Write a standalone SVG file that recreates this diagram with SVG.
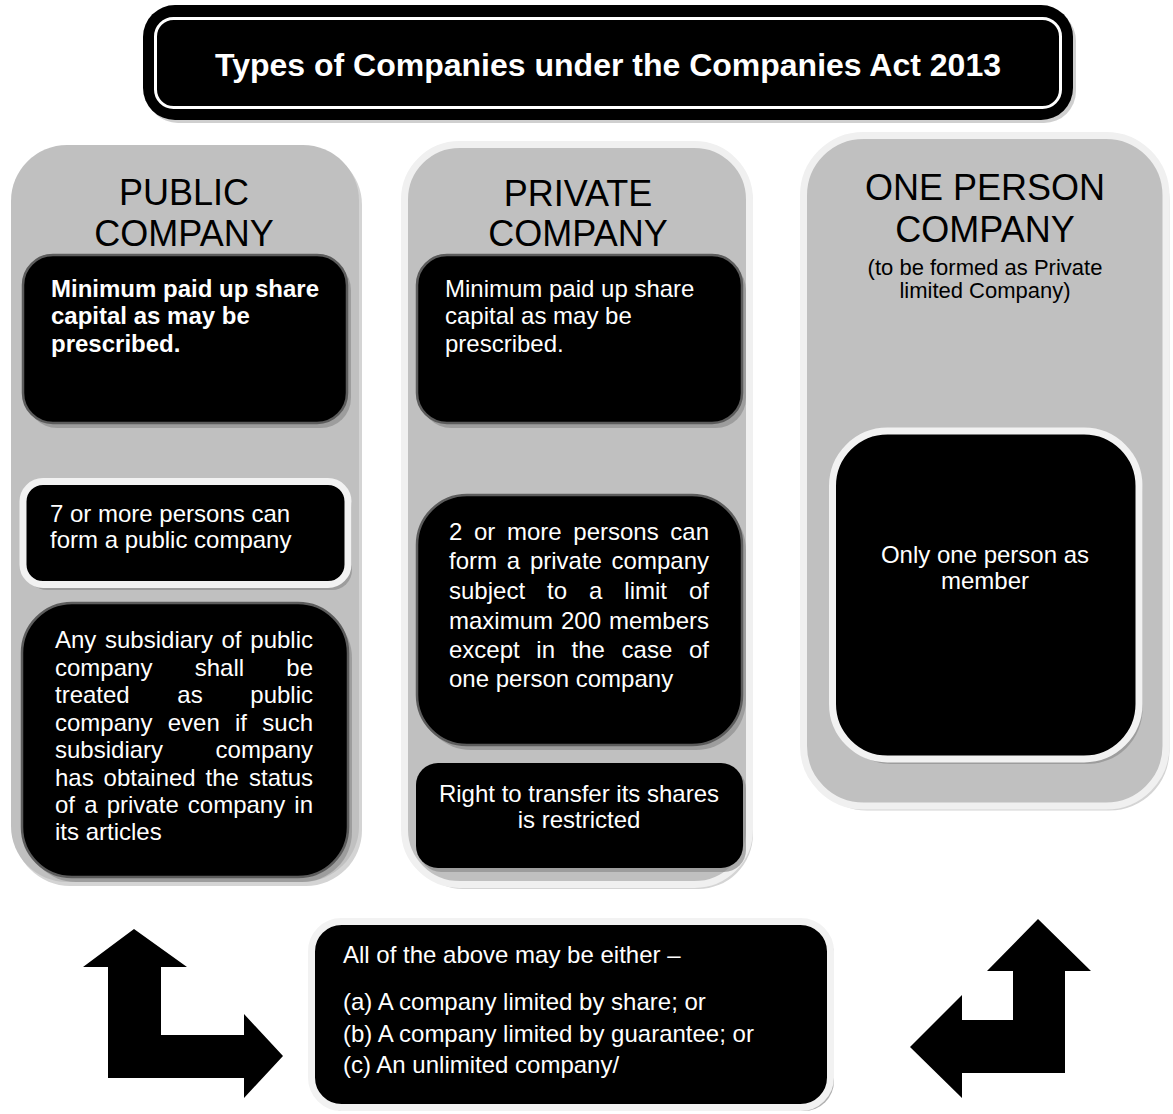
<svg xmlns="http://www.w3.org/2000/svg" width="1173" height="1114" viewBox="0 0 1173 1114">
<style>
text { font-family: "Liberation Sans", Arial, Helvetica, sans-serif; }
.col { fill: #c0c0c0; }
.ring { stroke: #f0f0f0; stroke-width: 7; }
.colsh { fill: #d4d4d4; }
.blk { fill: #000; stroke: #5c5c5c; stroke-width: 2.5; }
.blkw { fill: #000; stroke: #f2f2f2; stroke-width: 7; }
.sh { fill: #8e8e8e; opacity: 0.7; }
.hd { font-size: 36px; fill: #000; text-anchor: middle; }
.t { font-size: 24px; fill: #fff; }
.tb { font-size: 24px; fill: #fff; font-weight: bold; }
.c { text-anchor: middle; }
.e { text-anchor: end; }
.arrow { fill: #000; }
</style>
<rect width="1173" height="1114" fill="#fff"/>

<g id="title">
  <rect x="146" y="9" width="930" height="114" rx="32" fill="#a0a0a0" opacity="0.5"/>
  <rect x="143" y="5" width="930" height="115" rx="32" fill="#000"/>
  <rect x="155.5" y="18.5" width="905" height="89" rx="18" fill="none" stroke="#fff" stroke-width="3"/>
  <text x="608" y="76" font-size="32" font-weight="bold" fill="#fff" text-anchor="middle">Types of Companies under the Companies Act 2013</text>
</g>

<g id="public-company">
  <rect class="colsh" x="14" y="149" width="348" height="737" rx="56"/>
  <rect class="col" x="11" y="145" width="348" height="737" rx="56"/>
  <text class="hd" x="184" y="205">PUBLIC</text>
  <text class="hd" x="184" y="246">COMPANY</text>
</g>

<g id="private-company">
  <rect class="colsh" x="408" y="149" width="345" height="740" rx="55"/>
  <rect class="col ring" x="404.5" y="144.5" width="345" height="740" rx="55"/>
  <text class="hd" x="578" y="206">PRIVATE</text>
  <text class="hd" x="578" y="246">COMPANY</text>
</g>

<g id="one-person-company">
  <rect class="colsh" x="807" y="140" width="362.5" height="670.5" rx="60"/>
  <rect class="col ring" x="803.5" y="135.5" width="362.5" height="670.5" rx="60"/>
  <text class="hd" x="985" y="200">ONE PERSON</text>
  <text class="hd" x="985" y="242">COMPANY</text>
  <text x="985" y="275" font-size="22" fill="#000" text-anchor="middle">(to be formed as Private</text>
  <text x="985" y="298" font-size="22" fill="#000" text-anchor="middle">limited Company)</text>
</g>

<g id="public-capital">
  <rect class="sh" x="27" y="260" width="324" height="168" rx="30"/>
  <rect class="blk" x="23" y="255" width="324" height="168" rx="30"/>
  <text class="tb" x="51" y="297">Minimum paid up share</text>
  <text class="tb" x="51" y="324">capital as may be</text>
  <text class="tb" x="51" y="352">prescribed.</text>
</g>

<g id="public-members">
  <rect class="sh" x="27" y="487" width="325" height="103" rx="20"/>
  <rect class="blkw" x="23" y="481.5" width="325" height="103" rx="20"/>
  <text class="t" x="50" y="522">7 or more persons can</text>
  <text class="t" x="50" y="548">form a public company</text>
</g>

<g id="public-subsidiary">
  <rect class="sh" x="26" y="608" width="326" height="274" rx="50"/>
  <rect class="blk" x="22" y="603" width="326" height="274" rx="50"/>
  <text class="t" y="648"><tspan x="55">Any</tspan><tspan x="105">subsidiary</tspan><tspan x="221.5">of</tspan></text>
  <text class="t e" x="313" y="648">public</text>
  <text class="t" y="676"><tspan x="55">company</tspan><tspan x="194.7">shall</tspan></text>
  <text class="t e" x="313" y="676">be</text>
  <text class="t" y="703"><tspan x="55">treated</tspan><tspan x="177.3">as</tspan></text>
  <text class="t e" x="313" y="703">public</text>
  <text class="t" y="731"><tspan x="55">company</tspan><tspan x="167.7">even</tspan><tspan x="235">if</tspan></text>
  <text class="t e" x="313" y="731">such</text>
  <text class="t" x="55" y="758">subsidiary</text>
  <text class="t e" x="313" y="758">company</text>
  <text class="t" y="786"><tspan x="55">has</tspan><tspan x="103.6">obtained</tspan><tspan x="205.6">the</tspan></text>
  <text class="t e" x="313" y="786">status</text>
  <text class="t" y="813"><tspan x="55">of</tspan><tspan x="84.2">a</tspan><tspan x="106.7">private</tspan><tspan x="187.8">company</tspan></text>
  <text class="t e" x="313" y="813">in</text>
  <text class="t" x="55" y="840">its articles</text>
</g>

<g id="private-capital">
  <rect class="sh" x="421" y="260" width="325" height="168" rx="30"/>
  <rect class="blk" x="417" y="255" width="325" height="168" rx="30"/>
  <text class="t" x="445" y="297">Minimum paid up share</text>
  <text class="t" x="445" y="324">capital as may be</text>
  <text class="t" x="445" y="352">prescribed.</text>
</g>

<g id="private-members">
  <rect class="sh" x="421" y="500" width="325" height="250" rx="50"/>
  <rect class="blk" x="417" y="495" width="325" height="250" rx="50"/>
  <text class="t" y="540"><tspan x="449">2</tspan><tspan x="474">or</tspan><tspan x="507">more</tspan><tspan x="573.3">persons</tspan></text>
  <text class="t e" x="709" y="540">can</text>
  <text class="t" y="569"><tspan x="449">form</tspan><tspan x="506.8">a</tspan><tspan x="529.9">private</tspan></text>
  <text class="t e" x="709" y="569">company</text>
  <text class="t" y="599"><tspan x="449">subject</tspan><tspan x="547">to</tspan><tspan x="589">a</tspan><tspan x="624.3">limit</tspan></text>
  <text class="t e" x="709" y="599">of</text>
  <text class="t" y="629"><tspan x="449">maximum</tspan><tspan x="561">200</tspan></text>
  <text class="t e" x="709" y="629">members</text>
  <text class="t" y="658"><tspan x="449">except</tspan><tspan x="536.3">in</tspan><tspan x="571.6">the</tspan><tspan x="621.6">case</tspan></text>
  <text class="t e" x="709" y="658">of</text>
  <text class="t" x="449" y="687">one person company</text>
</g>

<g id="private-transfer">
  <rect class="sh" x="419" y="767" width="327" height="105" rx="22"/>
  <rect fill="#000" x="416" y="763" width="327" height="105" rx="22"/>
  <text class="t c" x="579" y="802">Right to transfer its shares</text>
  <text class="t c" x="579" y="828">is restricted</text>
</g>

<g id="one-person-member">
  <rect class="sh" x="836" y="436" width="306.5" height="328" rx="55"/>
  <rect class="blkw" x="832.5" y="431" width="306.5" height="328" rx="55" stroke-width="8"/>
  <text class="t c" x="985" y="563">Only one person as</text>
  <text class="t c" x="985" y="589">member</text>
</g>

<g id="company-forms">
  <rect class="sh" x="315" y="925" width="519" height="186" rx="30" opacity="0.4"/>
  <rect class="blkw" x="311.5" y="921.5" width="519" height="186" rx="30"/>
  <text class="t" x="343" y="963">All of the above may be either –</text>
  <text class="t" x="343" y="1010">(a) A company limited by share; or</text>
  <text class="t" x="343" y="1042">(b) A company limited by guarantee; or</text>
  <text class="t" x="343" y="1073">(c) An unlimited company/</text>
</g>

<g id="connectors">
  <polygon class="arrow" points="134,929 187,967 161,967 161,1035 244,1035 244,1014 283,1056 244,1098 244,1078 108,1078 108,967 83,967"/>
  <polygon class="arrow" points="1038,919 1091,971 1065,971 1065,1073 962,1073 962,1098 910,1047 962,995 962,1020 1013,1020 1013,971 987,971"/>
</g>
</svg>
